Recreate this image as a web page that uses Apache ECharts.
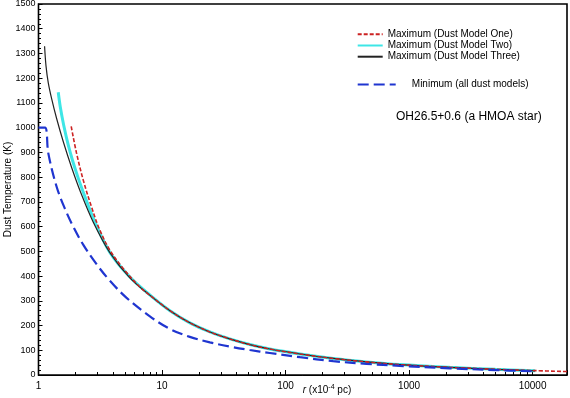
<!DOCTYPE html>
<html lang="en">
<head>
    <meta charset="UTF-8">
    <title>Dust Temperature</title>
    <script src="https://cdn.jsdelivr.net/npm/echarts@6/dist/echarts.min.js"></script>
    <style>
        html, body { margin: 0; padding: 0; background: #fff; }
    </style>
</head>
<body>
    <div id="main" style="width: 570px;height:398px;"></div>
    <script>
        // radius in units of 1e-4 pc, temperature in K
        const rOne = [1.84, 2.03, 2.30, 2.68, 3.13, 3.77, 4.83, 6.58, 8, 11.6, 16.8, 24.4, 35.4, 51.4, 74.6, 131, 243, 452, 841, 2130, 5000, 10000, 19000];
        const tOne = [1005, 898, 789, 681, 587, 506, 432, 357, 322, 260, 211, 174, 146, 123, 105, 85, 67, 53, 42, 31, 23, 18, 14];

        const rTwo = [1.445, 1.5, 1.6, 1.74, 1.9, 2.1, 2.4, 2.9, 3.77, 5.47, 8, 11.6, 16.8, 24.4, 35.4, 51.4, 74.6, 131, 243, 452, 841, 2130, 5000, 10500];
        const tTwo = [1143, 1085, 1010, 930, 862, 795, 715, 612, 497, 397, 323, 260, 211, 174, 146, 123, 105, 85, 67, 53, 42, 31, 23, 17];

        const rThree = [1.12, 1.15, 1.2, 1.28, 1.4, 1.59, 1.86, 2.2, 2.77, 3.77, 5.47, 8, 11.6, 16.8, 24.4, 35.4, 51.4, 74.6, 131, 243, 452, 841, 2130, 5000, 10500];
        const tThree = [1329, 1250, 1181, 1115, 1038, 942, 837, 737, 619, 496, 394, 322, 260, 211, 174, 146, 123, 105, 85, 67, 53, 42, 31, 23, 17];

        const rMin = [1.0, 1.13, 1.2, 1.4, 1.64, 1.91, 2.30, 2.95, 3.77, 5.14, 7.98, 11.6, 16.8, 24.4, 35.4, 51.4, 74.6, 131, 243, 452, 841, 2130, 5000, 10000];
        const tMin = [1000, 1000, 897, 762, 671, 600, 527, 448, 382, 313, 237, 186, 154, 132, 115, 101, 89, 72, 56, 45, 37, 27, 20, 15];

        const xLabels = [1, 10, 100, 1000, 10000];

        const pairs = (xs, ys) => xs.map((x, i) => [x, ys[i]]);

        const font = 'Liberation Sans, Helvetica, Arial, sans-serif';

        const lineSeries = (name, xs, ys, color, width, dash, z) => ({
            name: name,
            type: 'line',
            data: pairs(xs, ys),
            showSymbol: false,
            symbol: 'none',
            smooth: 0.35,
            color: color,
            lineStyle: { color: color, width: width, type: dash },
            z: z
        });

        let myChart = echarts.init(document.getElementById('main'));

        let option = {
            animation: false,
            backgroundColor: '#fff',
            // the grid border gives the closed frame round the plot
            grid: {
                left: 38.5, right: 3, top: 4, bottom: 23,
                outerBoundsMode: 'none',
                show: true,
                borderColor: '#000',
                borderWidth: 1.6,
                backgroundColor: 'transparent'
            },
            title: {
                text: 'OH26.5+0.6 (a HMOA star)',
                left: 396,
                top: 111,
                padding: 0,
                textStyle: { fontFamily: font, fontSize: 12, fontWeight: 'normal', color: '#000' }
            },
            legend: [
                {
                    data: ['Maximum (Dust Model One)', 'Maximum (Dust Model Two)', 'Maximum (Dust Model Three)'],
                    orient: 'vertical',
                    left: 356.7,
                    top: 28.7,
                    padding: 0,
                    itemGap: 0,
                    itemWidth: 25,
                    itemHeight: 14,
                    itemStyle: { opacity: 0 },
                    textStyle: { fontFamily: font, fontSize: 10, color: '#000' }
                },
                {
                    data: ['Minimum (all dust models)'],
                    left: 356.7,
                    top: 79,
                    padding: 0,
                    itemWidth: 38,
                    itemHeight: 14,
                    itemStyle: { opacity: 0 },
                    formatter: '    {name}',
                    textStyle: { fontFamily: font, fontSize: 10, color: '#000' }
                }
            ],
            xAxis: {
                type: 'log',
                min: 1,
                max: 19000,
                name: '{i|r} (x10{s|-4} pc)',
                nameLocation: 'middle',
                nameGap: 9,
                nameMoveOverlap: false,
                nameTextStyle: {
                    align: 'left',
                    fontFamily: font,
                    fontSize: 10,
                    color: '#000',
                    rich: {
                        i: { fontFamily: font, fontSize: 10, fontStyle: 'italic', color: '#000' },
                        s: { fontFamily: font, fontSize: 7, color: '#000', verticalAlign: 'top', padding: [0, 0, 5, 0] }
                    }
                },
                axisLine: { show: true, onZero: false, lineStyle: { color: '#000' } },
                axisTick: { show: true, inside: true, length: 5, lineStyle: { color: '#000' } },
                minorTick: { show: true, splitNumber: 9, length: 3, lineStyle: { color: '#000' } },
                splitLine: { lineStyle: { opacity: 0 } },
                axisLabel: {
                    margin: 6,
                    fontFamily: font,
                    fontSize: 10,
                    color: '#000',
                    formatter: v => xLabels.includes(v) ? String(v) : ''
                }
            },
            yAxis: {
                type: 'value',
                min: 0,
                max: 1500,
                interval: 100,
                name: 'Dust Temperature (K)',
                nameLocation: 'middle',
                nameGap: 25,
                nameMoveOverlap: false,
                nameTextStyle: { fontFamily: font, fontSize: 10, color: '#000' },
                axisLine: { show: true, onZero: false, lineStyle: { color: '#000' } },
                axisTick: { show: true, inside: true, length: 4, lineStyle: { color: '#000' } },
                minorTick: { show: true, splitNumber: 5, length: 2.5, lineStyle: { color: '#000' } },
                splitLine: { lineStyle: { opacity: 0 } },
                axisLabel: { margin: 3, fontFamily: font, fontSize: 9, color: '#000', formatter: v => String(v) }
            },
            series: [
                lineSeries('Maximum (Dust Model Two)', rTwo, tTwo, '#3ee6e6', 3, 'solid', 2),
                lineSeries('Maximum (Dust Model Three)', rThree, tThree, '#222222', 1.2, 'solid', 3),
                lineSeries('Maximum (Dust Model One)', rOne, tOne, '#cc2222', 1.6, [4, 2], 4),
                lineSeries('Minimum (all dust models)', rMin, tMin, '#1f35d0', 2.2, [11, 5], 5)
            ]
        };
        myChart.setOption(option);
    </script>
</body>
</html>
